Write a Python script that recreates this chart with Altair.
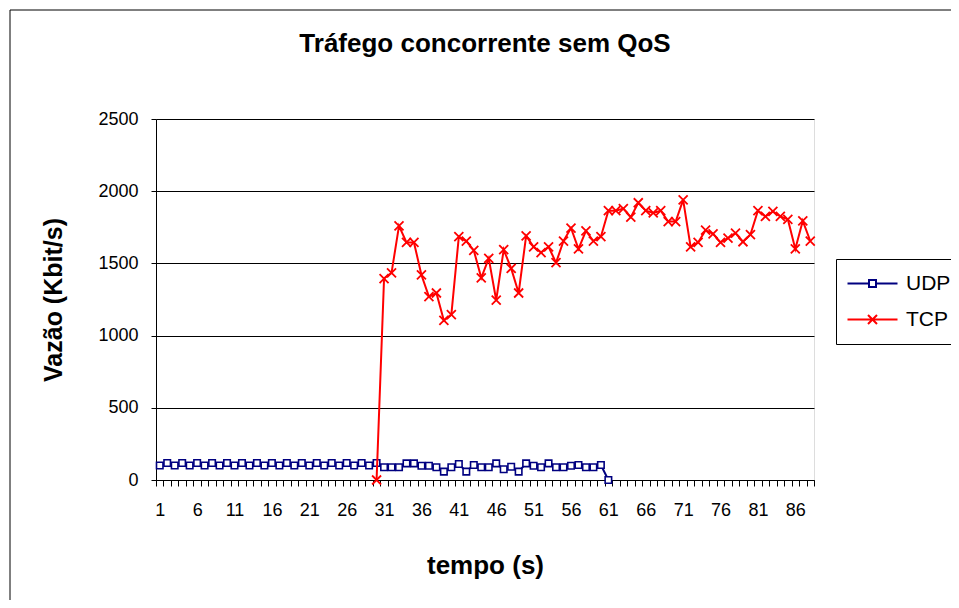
import altair as alt
import pandas as pd

# ---------------- data ----------------
seconds = list(range(1, 89))
udp_seconds = list(range(1, 62))
udp_kbps = [100, 118, 100, 118, 100, 118, 100, 118, 100, 118,
            100, 118, 100, 118, 100, 118, 100, 118, 100, 118,
            100, 118, 100, 118, 100, 118, 100, 118, 100, 118,
            88, 88, 88, 115, 115, 99, 99, 88, 58, 88,
            111, 58, 104, 88, 88, 115, 74, 92, 58, 115,
            99, 88, 115, 88, 88, 99, 104, 88, 88, 104,
            0]
tcp_seconds = list(range(30, 89))
tcp_kbps = [0, 1395, 1435, 1760, 1645, 1645, 1420, 1270, 1295, 1105,
            1145, 1685, 1655, 1590, 1400, 1535, 1245, 1595, 1465, 1295,
            1690, 1615, 1575, 1615, 1505, 1655, 1745, 1600, 1725, 1655,
            1685, 1865, 1865, 1880, 1820, 1920, 1865, 1850, 1865, 1790,
            1790, 1940, 1615, 1645, 1730, 1705, 1645, 1675, 1710, 1650,
            1700, 1865, 1825, 1860, 1825, 1805, 1600, 1795, 1655]
series_names = ["UDP", "TCP"]
series_colors = ["#000080", "#FF0000"]
x_label_values = [1, 6, 11, 16, 21, 26, 31, 36, 41, 46, 51, 56, 61, 66, 71, 76, 81, 86]
y_tick_values = [0, 500, 1000, 1500, 2000, 2500]

df = pd.concat([
    pd.DataFrame({"tempo": udp_seconds, "vazao": udp_kbps, "serie": "UDP"}),
    pd.DataFrame({"tempo": tcp_seconds, "vazao": tcp_kbps, "serie": "TCP"}),
], ignore_index=True)

# category boundaries for ticks
tick_bounds = [s - 0.5 for s in seconds] + [seconds[-1] + 0.5]
label_set = ",".join(str(v - 0.5) for v in x_label_values)

FONT = "Liberation Sans"
W, H = 658, 361

x_enc = alt.X(
    "tempo:Q",
    scale=alt.Scale(domain=[tick_bounds[0], tick_bounds[-1]], nice=False, zero=False),
    axis=alt.Axis(
        values=tick_bounds,
        labelExpr=f"indexof([{label_set}], datum.value) >= 0 ? format(datum.value + 0.5, 'd') : ''",
        labelOffset=W / len(seconds) / 2,
        labelOverlap=False,
        labelFlush=False,
        labelFontSize=18,
        labelFont=FONT,
        labelColor="black",
        labelPadding=15,
        tickSize=6,
        tickColor="black",
        domainColor="black",
        domainWidth=1,
        grid=False,
        title="tempo (s)",
        titleFont=FONT,
        titleFontSize=26,
        titleFontWeight="bold",
        titleColor="black",
        titleX=W / 2,
        titleY=85,
        titleBaseline="middle",
    ),
)
y_enc = alt.Y(
    "vazao:Q",
    scale=alt.Scale(domain=[0, 2500], nice=False),
    axis=alt.Axis(
        values=y_tick_values,
        format="d",
        labelFontSize=18,
        labelFont=FONT,
        labelColor="black",
        labelPadding=13,
        tickSize=5,
        tickColor="black",
        domainColor="black",
        domainWidth=1,
        grid=True,
        gridColor="black",
        gridWidth=1,
        title="Vazão (Kbit/s)",
        titleFont=FONT,
        titleFontSize=25,
        titleFontWeight="bold",
        titleColor="black",
        titleX=-103,
        titleY=H / 2,
        titleAngle=-90,
        titleAlign="center",
        titleBaseline="middle",
    ),
)
color_scale = alt.Scale(domain=series_names, range=series_colors)

base = alt.Chart(df)

udp_path_legend = "M-5,0H-0.7M0.7,0H5M-0.7,-0.7H0.7V0.7H-0.7Z"
tcp_path_legend = "M-5,0H5M-0.9,-0.9L0.9,0.9M-0.9,0.9L0.9,-0.9"
x_path = "M-1,-1L1,1M-1,1L1,-1"

frame = alt.Chart(pd.DataFrame({"k": [0]})).mark_rect(
    fill="white", fillOpacity=0, stroke="black", strokeWidth=1
).encode(
    x=alt.value(-146), x2=alt.value(812), y=alt.value(-109), y2=alt.value(485)
)

def line_layer(name, col):
    return base.transform_filter(alt.datum.serie == name).mark_line(
        strokeWidth=2, clip=False, color=col
    ).encode(x=x_enc, y=y_enc)

udp_pts = base.transform_filter(alt.datum.serie == "UDP").mark_point(
    shape="square", filled=False, fill="white", fillOpacity=1, size=42,
    strokeWidth=1.6, opacity=1, stroke=series_colors[0]
).encode(x=x_enc, y=y_enc)

tcp_pts = base.transform_filter(alt.datum.serie == "TCP").mark_point(
    shape=x_path, filled=False, size=81, strokeWidth=1.8, opacity=1,
    stroke=series_colors[1]
).encode(x=x_enc, y=y_enc)

legend_props = dict(
    title=None, orient="none", legendX=680, legendY=140,
    labelFontSize=21, labelFont=FONT, labelColor="black",
    symbolSize=100, symbolStrokeWidth=2, symbolOffset=12, labelOffset=23,
    rowPadding=14, padding=14, strokeColor="black", fillColor="white",
)
legend_layer = base.transform_filter("false").mark_point(
    filled=False, opacity=1, strokeWidth=2, size=100
).encode(
    x=x_enc, y=y_enc,
    color=alt.Color("serie:N", scale=color_scale, legend=alt.Legend(**legend_props)),
    shape=alt.Shape("serie:N", scale=alt.Scale(domain=series_names,
                                               range=[udp_path_legend, tcp_path_legend]),
                    legend=alt.Legend(**legend_props)),
)

chart = alt.layer(
    frame, line_layer("UDP", series_colors[0]), udp_pts,
    line_layer("TCP", series_colors[1]), tcp_pts, legend_layer
).properties(
    width=W, height=H,
    title=alt.Title("Tráfego concorrente sem QoS", font=FONT, fontSize=26,
                    fontWeight="bold", color="black", anchor="middle",
                    frame="group", offset=-47),
    autosize=alt.AutoSizeParams(type="none"),
    padding={"left": 148, "top": 111, "right": 137, "bottom": 120},
).configure_view(stroke="#8c8c8c", strokeWidth=1.5).configure(background="white")

chart.save("out.html", embed_options={"renderer": "svg", "actions": False})
